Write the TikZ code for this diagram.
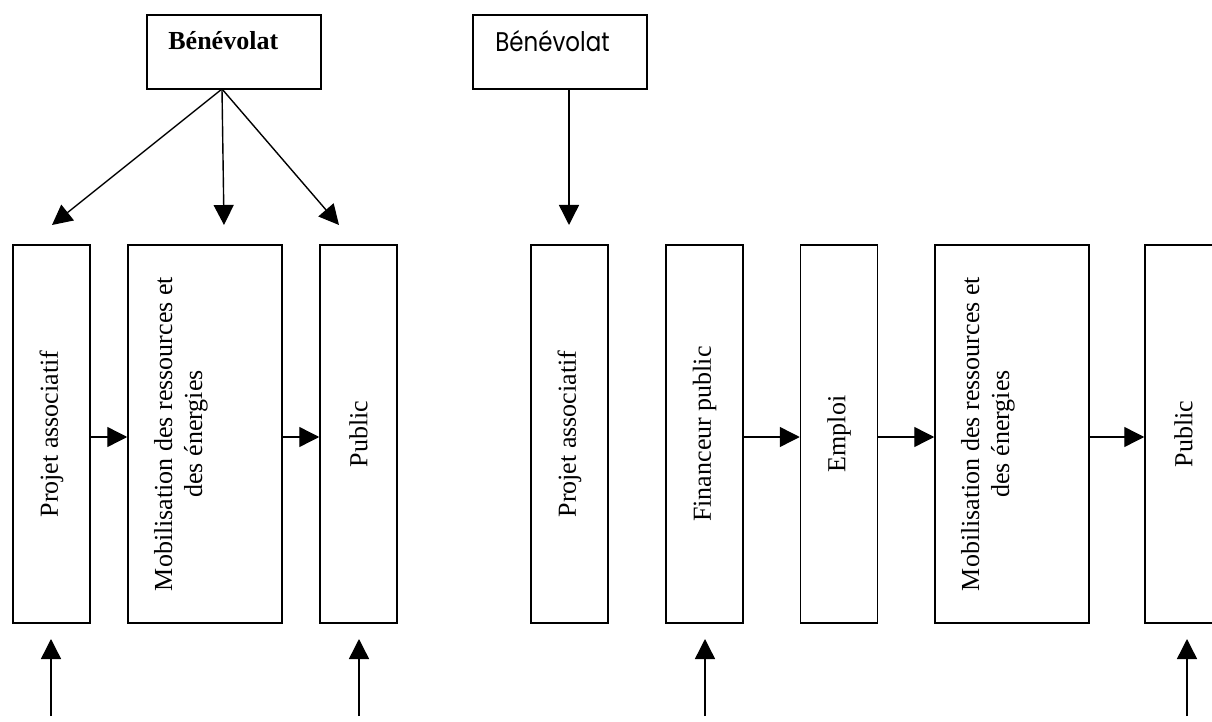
\documentclass[tikz,border=0pt]{standalone}
\usepackage{fontspec}
\setmainfont{Liberation Serif}
\newfontfamily\geofont{Poppins}
\usetikzlibrary{arrows.meta}
\tikzset{
  x=0.5pt,y=-0.5pt,
  vbox/.style={draw,line width=0.75pt,inner sep=0pt,minimum height=189pt,minimum width=38.5pt,font=\fontsize{13}{15}\selectfont},
  wbox/.style={vbox,minimum width=77pt},
  topbox/.style={draw,line width=1.1pt,inner sep=0pt,minimum width=87pt,minimum height=37pt},
  arr/.style={line width=0.7pt,-{Triangle[length=10pt,width=10pt]}},
}
\newcommand{\vtext}[1]{\rotatebox{90}{#1}}
\newcommand{\vtwo}[2]{\rotatebox{90}{\raisebox{9pt}[0pt][0pt]{\begin{tabular}{@{}c@{}}#1\\#2\end{tabular}}}}
\begin{document}
\begin{tikzpicture}
\useasboundingbox (0,0) rectangle (1212,722);
\clip (0,0) rectangle (1212,722);
% top boxes
\node[topbox] (b1) at (234,52) {};
\node[anchor=base west,inner sep=0pt,font=\fontsize{13}{15}\selectfont\bfseries] (b1t) at (168,50) {Bénévolat};
\node[topbox] (b2) at (560,52) {};
\node[anchor=base west,inner sep=0pt,font=\fontsize{13.5}{15}\geofont] (b2t) at (495,52) {\scalebox{0.85}[1]{Bénévolat}};
% left group
\node[vbox] (l1) at (51.5,434) {\vtext{Projet associatif}};
\node[wbox] (l2) at (205,434) {\vtwo{Mobilisation des ressources et}{des énergies}};
\node[vbox] (l3) at (358.5,434) {\vtext{Public}};
% right group
\node[vbox] (r1) at (569.5,434) {\vtext{Projet associatif}};
\node[vbox] (r2) at (704.5,434) {\vtext{Financeur public}};
\node[vbox] (r3) at (839,434) {\vtext{Emploi}};
\node[wbox] (r4) at (1012,434) {\vtwo{Mobilisation des ressources et}{des énergies}};
\node[vbox] (r5) at (1183.5,434) {\vtext{Public}};
% coordinates
\coordinate (o1) at (222,89);
\coordinate (t1) at (52,225);
\coordinate (t2) at (224,225);
\coordinate (t3) at (339,225);
\coordinate (o2) at (569,89);
\coordinate (t4) at (569,225);
\coordinate (s1) at (51,716);   \coordinate (e1) at (51,639);
\coordinate (s2) at (359,716);  \coordinate (e2) at (359,639);
\coordinate (s3) at (705,716);  \coordinate (e3) at (705,639);
\coordinate (s4) at (1187,716); \coordinate (e4) at (1187,639);
% top arrows
\draw[arr] (o1) -- (t1);
\draw[arr] (o1) -- (t2);
\draw[arr] (o1) -- (t3);
\draw[arr] (o2) -- (t4);
% horizontal arrows
\draw[arr] ([yshift=-1.5pt]l1.east) -- ([yshift=-1.5pt]l2.west);
\draw[arr] ([yshift=-1.5pt]l2.east) -- ([yshift=-1.5pt]l3.west);
\draw[arr] ([yshift=-1.5pt]r2.east) -- ([yshift=-1.5pt]r3.west);
\draw[arr] ([yshift=-1.5pt]r3.east) -- ([yshift=-1.5pt]r4.west);
\draw[arr] ([yshift=-1.5pt]r4.east) -- ([yshift=-1.5pt]r5.west);
% bottom arrows
\draw[arr] (s1) -- (e1);
\draw[arr] (s2) -- (e2);
\draw[arr] (s3) -- (e3);
\draw[arr] (s4) -- (e4);
\end{tikzpicture}
\end{document}
